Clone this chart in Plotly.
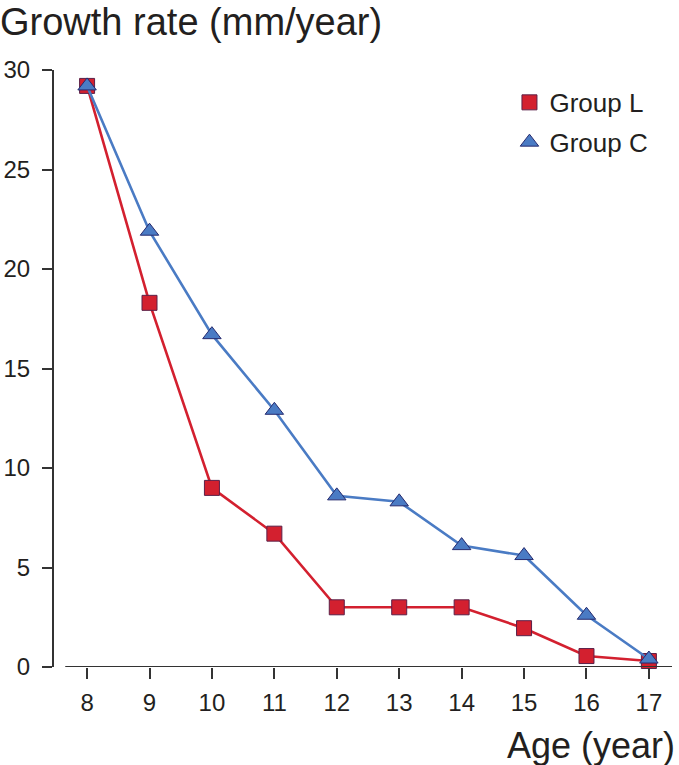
import plotly.graph_objects as go

ages = [8, 9, 10, 11, 12, 13, 14, 15, 16, 17]
group_l = [29.2, 18.3, 9.0, 6.7, 3.0, 3.0, 3.0, 1.95, 0.55, 0.3]
group_c = [29.2, 21.9, 16.7, 12.9, 8.6, 8.3, 6.1, 5.6, 2.6, 0.4]
y_ticks = [0, 5, 10, 15, 20, 25, 30]

RED = "#d3202f"
RED_EDGE = "#5b2048"
BLUE = "#4a7bc4"
BLUE_EDGE = "#262a6e"
TXT = "#231f20"
FONT = "Liberation Sans, Arial, sans-serif"

fig = go.Figure()

fig.add_trace(go.Scatter(
    x=ages, y=group_l, mode="lines+markers", showlegend=False,
    line=dict(color=RED, width=2.6),
    marker=dict(symbol="square", size=15, color=RED, line=dict(color=RED_EDGE, width=1)),
    cliponaxis=False,
))
fig.add_trace(go.Scatter(
    x=ages, y=group_c, mode="lines+markers", showlegend=False,
    line=dict(color=BLUE, width=2.6),
    marker=dict(symbol="triangle-up", size=16, color=BLUE, line=dict(color=BLUE_EDGE, width=1)),
    cliponaxis=False,
))
# legend entries (markers only)
fig.add_trace(go.Scatter(
    x=[None], y=[None], mode="markers", name="Group L", legendgroup="a",
    marker=dict(symbol="square", size=15, color=RED, line=dict(color=RED_EDGE, width=1)),
))
fig.add_trace(go.Scatter(
    x=[None], y=[None], mode="markers", name="Group C", legendgroup="b",
    marker=dict(symbol="triangle-up", size=16, color=BLUE, line=dict(color=BLUE_EDGE, width=1)),
))

x_lo = 7.47
x_axis_start = 7.65
x_hi = 17.37

# separate x-axis baseline (offset from the y axis)
fig.add_shape(type="line", xref="x", yref="y", x0=x_axis_start, x1=x_hi, y0=0, y1=0,
              line=dict(color="#333333", width=2))

fig.update_layout(
    width=679, height=765,
    margin=dict(l=54, r=7, t=70, b=98, autoexpand=False),
    paper_bgcolor="white", plot_bgcolor="white",
    font=dict(family=FONT, color=TXT),
    title=dict(text="Growth rate (mm/year)", x=0.0, xref="container", xanchor="left",
               y=1 - 22 / 765, yref="container", yanchor="middle",
               font=dict(size=38, color=TXT, family=FONT)),
    xaxis=dict(range=[x_lo, x_hi], tickvals=ages, ticktext=[str(a) for a in ages],
               showgrid=False, zeroline=False, showline=False,
               ticks="outside", ticklen=11, tickwidth=1.5, tickcolor="#333333",
               ticklabelstandoff=3,
               tickfont=dict(size=24, color=TXT, family=FONT)),
    yaxis=dict(range=[0, 30], tickvals=y_ticks, showgrid=False, zeroline=False,
               showline=True, linecolor="#333333", linewidth=2,
               ticks="outside", ticklen=10, tickwidth=1.5, tickcolor="#333333",
               ticklabelstandoff=7,
               tickfont=dict(size=24, color=TXT, family=FONT)),
    legend=dict(x=0.737, y=0.985, xanchor="left", yanchor="top",
                font=dict(size=26, color=TXT, family=FONT),
                tracegroupgap=3, itemwidth=30, bgcolor="rgba(0,0,0,0)"),
    annotations=[dict(text="Age (year)", xref="paper", yref="paper",
                      x=1.008, y=-0.131, xanchor="right", yanchor="middle",
                      showarrow=False, font=dict(size=36, color=TXT, family=FONT))],
)

fig.write_html("out.html", config={"displayModeBar": False},
               post_script="document.body.style.margin='0';")
